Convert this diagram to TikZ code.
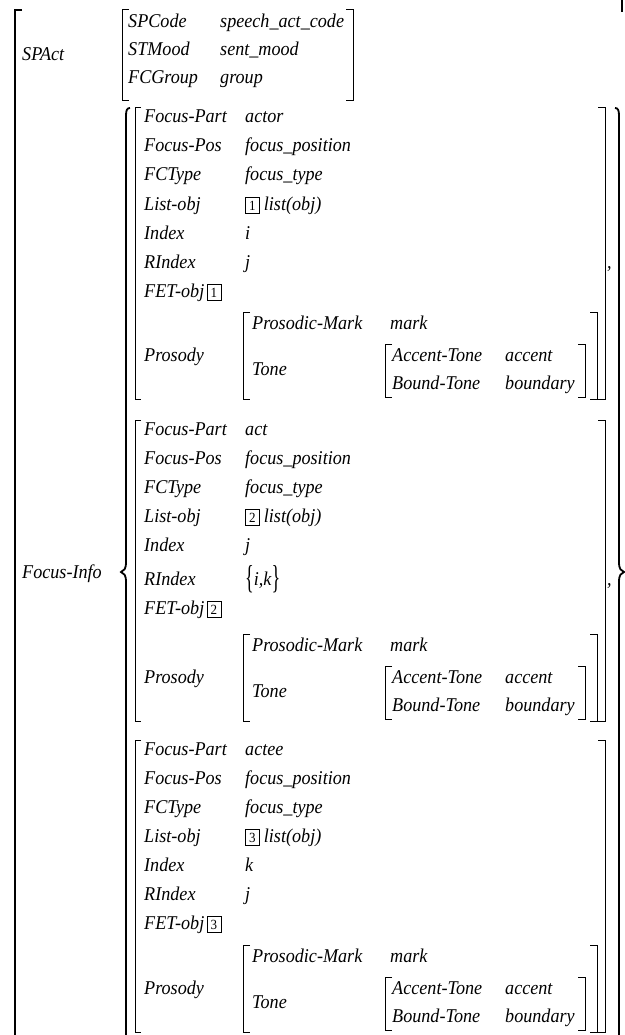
\documentclass[tikz,border=0pt]{standalone}
\usepackage{fontspec}
\setmainfont{Liberation Serif}[FakeStretch=0.93]
\usepackage{tikz}
\newcommand{\tallbr}[1]{\raisebox{-3pt}{\scalebox{1}[1.7]{\upshape#1}}}

\begin{document}
\begin{tikzpicture}[x=1pt,y=-1pt,
    every node/.style={anchor=base west,inner sep=0pt,
      font=\fontsize{19.5}{22}\selectfont\itshape},
    tag/.style={draw,line width=0.7pt,inner sep=0pt,minimum width=14pt,
      minimum height=16pt,font=\fontsize{14}{14}\selectfont\upshape},
    brk/.style={line width=1pt},
    outer/.style={line width=1.5pt},
    brace/.style={line width=1.8pt}]
  \useasboundingbox (0,0) rectangle (624,1035);

  % outer matrix
  \draw[outer] (22,10) -| (15,1035);
  \draw[outer] (622,0) -- (622,12);
  \node (spact) at (22,61) {SPAct};
  \node (focusinfo) at (22,578) {Focus-Info};

  % speech act
  \draw[brk] (129,10) -| (122,101) -- (129,101);
  \draw[brk] (346,10) -| (353,101) -- (346,101);
  \node (spcode) at (128,28) {SPCode};
  \node (spcodev) at (220,28) {speech\_act\_code};
  \node (stmood) at (128,56) {STMood};
  \node (stmoodv) at (220,56) {sent\_mood};
  \node (fcgroup) at (128,84) {FCGroup};
  \node (fcgroupv) at (220,84) {group};

  % set braces
  \draw[brace] (130,108) .. controls (127,108) and (126,110) .. (126,116)
     -- (126,562) .. controls (126,569) and (124,571) .. (121,572)
     .. controls (124,573) and (126,575) .. (126,582) -- (126,1035);
  \draw[brace] (615,108) .. controls (618,108) and (619,110) .. (619,116)
     -- (619,562) .. controls (619,569) and (621,571) .. (624,572)
     .. controls (621,573) and (619,575) .. (619,582) -- (619,1035);

  % focus structures
  \foreach \t/\s/\p/\part/\idx/\ridx/\tag in
      {108/0/0/actor/i/j/1,
       420/5/10/act/j/{\tallbr{\{}i,k\tallbr{\}}}/2,
       740/0/1/actee/k/j/3}{
    \pgfmathsetmacro{\ybot}{\t+291+\p}
    \pgfmathsetmacro{\ymark}{\t+215+\p}
    \draw[brk] (141,\t) -| (135,\ybot) -- (141,\ybot);
    \draw[brk] (598,\t) -| (605,\ybot) -- (598,\ybot);
    \node (part\tag) at (144,\t+15) {Focus-Part};
    \node (partv\tag) at (245,\t+15) {\part};
    \node (pos\tag) at (144,\t+44) {Focus-Pos};
    \node (posv\tag) at (245,\t+44) {focus\_position};
    \node (type\tag) at (144,\t+73) {FCType};
    \node (typev\tag) at (245,\t+73) {focus\_type};
    \node (list\tag) at (144,\t+102) {List-obj};
    \node[tag] (listtag\tag) at (245,\t+102) {\tag};
    \node (listv\tag) at ([xshift=4pt]listtag\tag.base east) {list(obj)};
    \node (index\tag) at (144,\t+131) {Index};
    \node (indexv\tag) at (245,\t+131) {\idx};
    \node (rindex\tag) at (144,\t+160+\s) {RIndex};
    \node (rindexv\tag) at (245,\t+160+\s) {\ridx};
    \node (fet\tag) at (144,\t+189+\s) {FET-obj};
    \node[tag] (fettag\tag) at ([xshift=2pt]fet\tag.base east) {\tag};
    \ifnum\tag<3 \node (comma\tag) at (607,\t+160+\s) {,};\fi
    % prosody
    \draw[brk] (250,\ymark-11) -| (243,\ybot) -- (250,\ybot);
    \draw[brk] (590,\ymark-11) -| (597,\ybot) -- (590,\ybot);
    \node (pros\tag) at (144,\ymark+38) {Prosody};
    \node (mark\tag) at (252,\ymark+6) {Prosodic-Mark};
    \node (markv\tag) at (390,\ymark+6) {mark};
    \node (tone\tag) at (252,\ymark+52) {Tone};
    \draw[brk] (392,\ymark+21) -| (385,\ybot-2) -- (392,\ybot-2);
    \draw[brk] (578,\ymark+21) -| (585,\ybot-2) -- (578,\ybot-2);
    \node (acc\tag) at (392,\ymark+38) {Accent-Tone};
    \node (accv\tag) at (505,\ymark+38) {accent};
    \node (bnd\tag) at (392,\ymark+66) {Bound-Tone};
    \node (bndv\tag) at (505,\ymark+66) {boundary};
  }
\end{tikzpicture}
\end{document}
